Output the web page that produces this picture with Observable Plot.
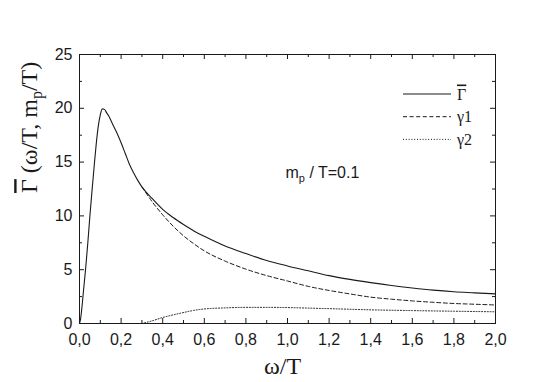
<!DOCTYPE html>
<html><head><meta charset="utf-8">
<script src="https://cdn.jsdelivr.net/npm/d3@7"></script>
<script src="https://cdn.jsdelivr.net/npm/@observablehq/plot@0.6"></script>
<style>
body{margin:0;background:#fff}
#wrap{position:relative;width:547px;height:382px;overflow:hidden}
#wrap svg{display:block}
#legend{position:absolute;left:0;top:0}
</style></head><body><div id="wrap"></div>
<script>
// Γ̄ (solid)
const omegaGammaBar = [0,0.005,0.01,0.02,0.03,0.04,0.05,0.06,0.07,0.08,0.09,0.10,0.11,0.12,0.13,0.14,0.16,0.18,0.20,0.22,0.24,0.26,0.28,0.30,0.35,0.40,0.45,0.50,0.55,0.60,0.70,0.80,0.90,1.0,1.1,1.2,1.3,1.4,1.5,1.6,1.7,1.8,1.9,2.0];
const gammaBar = [0,0.4,1.2,3.2,5.2,7.5,10.0,12.3,14.5,16.6,18.3,19.4,19.95,19.9,19.6,19.3,18.5,17.7,16.8,15.8,14.8,14.0,13.3,12.7,11.6,10.6,9.85,9.2,8.6,8.1,7.2,6.5,5.85,5.35,4.9,4.45,4.1,3.8,3.53,3.3,3.1,2.95,2.85,2.75];
// γ1 (dashed)
const omegaGamma1 = [0.30,0.35,0.40,0.45,0.50,0.55,0.60,0.70,0.80,0.90,1.0,1.1,1.2,1.3,1.4,1.5,1.6,1.7,1.8,1.9,2.0];
const gamma1 = [12.7,11.3,10.1,9.05,8.15,7.4,6.75,5.8,5.05,4.45,3.95,3.45,3.07,2.75,2.45,2.26,2.1,1.97,1.86,1.79,1.72];
// γ2 (dotted)
const omegaGamma2 = [0.30,0.35,0.40,0.45,0.50,0.55,0.60,0.70,0.80,0.90,1.0,1.1,1.2,1.4,1.6,1.8,2.0];
const gamma2 = [0,0.25,0.56,0.8,1.02,1.22,1.35,1.45,1.5,1.5,1.48,1.43,1.38,1.27,1.2,1.14,1.09];

const xTicksMajor = [0,0.2,0.4,0.6,0.8,1.0,1.2,1.4,1.6,1.8,2.0];
const xTicksMinor = [0.1,0.3,0.5,0.7,0.9,1.1,1.3,1.5,1.7,1.9];
const yTicksMajor = [0,5,10,15,20,25];
const yTicksMinor = [2.5,7.5,12.5,17.5,22.5];
// "^" after a letter = overbar, "_p" = subscript p
const legendLabels = ["\u0393^", "\u03B31", "\u03B32"];
const annotationText = "m_p / T=0.1";
const xLabel = "\u03C9/T";
const yLabel = "\u0393^ (\u03C9/T, m_p/T)";

const W = 547, H = 382;
const mL = 79, mR = 52, mT = 54, mB = 59;
const fw = W - mL - mR, fh = H - mT - mB;
const ink = "#1a1a1a";
const sans = "'Liberation Sans', Arial, sans-serif";
const serif = "'Liberation Serif', 'Times New Roman', serif";
const dashStyles = [null, "4,2.6", "1,1.8"];

const rowsBar = omegaGammaBar.map((x,i)=>({x, y: gammaBar[i]}));
const rows1 = omegaGamma1.map((x,i)=>({x, y: gamma1[i]}));
const rows2 = omegaGamma2.map((x,i)=>({x, y: gamma2[i]}));
const fmt = d => d3.format(".1f")(d).replace(".", ",");

const plot = Plot.plot({
  width: W, height: H,
  marginLeft: mL, marginRight: mR, marginTop: mT, marginBottom: mB,
  style: {fontFamily: sans, fontSize: "16px", color: ink, background: "white"},
  x: {domain: [0, 2], type: "linear"},
  y: {domain: [0, 25], type: "linear"},
  marks: [
    Plot.axisX({ticks: xTicksMajor, tickSize: 0, tickPadding: 10, tickFormat: fmt, label: null, fontSize: 16}),
    Plot.axisY({ticks: yTicksMajor, tickSize: 0, tickPadding: 7, tickFormat: d => String(d), label: null, fontSize: 16}),
    Plot.tickX(xTicksMajor, {x: d => d, insetTop: fh - 5, stroke: ink}),
    Plot.tickX(xTicksMinor, {x: d => d, insetTop: fh - 3, stroke: ink}),
    Plot.tickX(xTicksMajor, {x: d => d, insetBottom: fh - 5, stroke: ink}),
    Plot.tickX(xTicksMinor, {x: d => d, insetBottom: fh - 3, stroke: ink}),
    Plot.tickY(yTicksMajor, {y: d => d, insetRight: fw - 5, stroke: ink}),
    Plot.tickY(yTicksMinor, {y: d => d, insetRight: fw - 3, stroke: ink}),
    Plot.tickY(yTicksMajor, {y: d => d, insetLeft: fw - 5, stroke: ink}),
    Plot.tickY(yTicksMinor, {y: d => d, insetLeft: fw - 3, stroke: ink}),
    Plot.line(rows2, {x: "x", y: "y", stroke: ink, strokeWidth: 1, strokeDasharray: dashStyles[2], curve: "monotone-x"}),
    Plot.line(rows1, {x: "x", y: "y", stroke: ink, strokeWidth: 1, strokeDasharray: dashStyles[1], curve: "monotone-x"}),
    Plot.line(rowsBar, {x: "x", y: "y", stroke: ink, strokeWidth: 1.1, curve: "monotone-x"}),
    Plot.frame({stroke: ink, strokeWidth: 1}),
    Plot.text([xLabel], {frameAnchor: "bottom", dy: 50, dx: -5, fontFamily: serif, fontSize: 24, fill: ink, lineAnchor: "bottom"}),
    Plot.text([yLabel], {frameAnchor: "left", rotate: -90, dx: -50, dy: 4, fontFamily: serif, fontSize: 24, fill: ink}),
    Plot.text([annotationText], {frameAnchor: "top-left", dx: 206, dy: 123, textAnchor: "start", lineAnchor: "bottom", fontFamily: sans, fontSize: 16, fill: ink})
  ]
});

// rich text: "X^" -> X with overbar, "_p" -> subscript p
function enrich(t, subSize, shift) {
  const s = t.text();
  t.text(null);
  let i = 0, buf = "", pendingDy = 0;
  const flush = () => {
    if (buf) {
      const ts = t.append("tspan").text(buf);
      if (pendingDy) { ts.attr("dy", pendingDy); pendingDy = 0; }
      buf = "";
    }
  };
  while (i < s.length) {
    const c = s[i];
    if (s[i+1] === "^") {
      flush();
      const ts = t.append("tspan").attr("text-decoration", "overline").style("text-decoration", "overline").text(c);
      if (pendingDy) { ts.attr("dy", pendingDy); pendingDy = 0; }
      i += 2;
    } else if (c === "_") {
      flush();
      t.append("tspan").attr("dy", shift + pendingDy).attr("font-size", subSize).text(s[i+1]);
      pendingDy = -shift;
      i += 2;
    } else { buf += c; i++; }
  }
  flush();
}
d3.select(plot).selectAll("text").each(function() {
  const t = d3.select(this);
  const s = t.text();
  if (s === yLabel) enrich(t, 16, 5);
  else if (s === annotationText) enrich(t, 11, 4);
});

const wrap = document.getElementById("wrap");
wrap.appendChild(plot);

// legend overlay (inside plot area, top right)
const leg = d3.select(wrap).append("svg").attr("id", "legend").attr("width", W).attr("height", H);
legendLabels.forEach((lab, i) => {
  const y = 94 + i * 22.7;
  leg.append("line").attr("x1", 403).attr("x2", 451).attr("y1", y).attr("y2", y)
    .attr("stroke", ink).attr("stroke-width", i === 0 ? 1.1 : 1)
    .attr("stroke-dasharray", dashStyles[i]);
  const t = leg.append("text").attr("x", 457).attr("y", y + 5.5)
    .attr("font-family", serif).attr("font-size", 16).attr("fill", ink).text(lab);
  enrich(t, 11, 4);
});
</script></body></html>
